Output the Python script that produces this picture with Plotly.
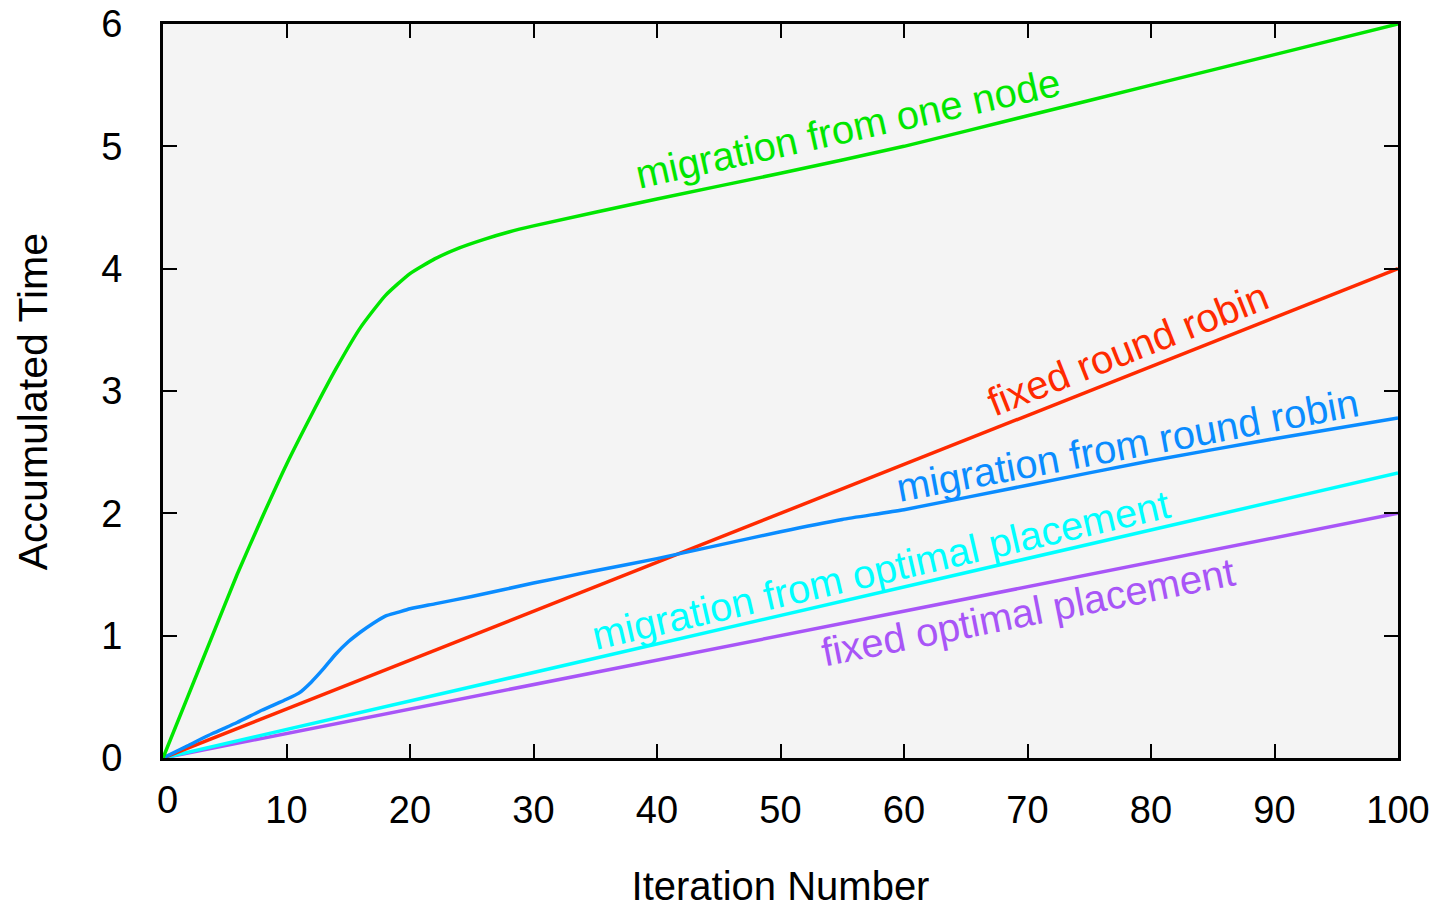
import plotly.graph_objects as go

# ---- data ----
x_one_node = [0, 2, 4, 6, 8, 10, 12, 14, 16, 18, 20, 22, 24, 26, 28, 30, 40, 50, 60, 70, 80, 90, 100]
y_one_node = [0, 0.5, 1.0, 1.5, 1.96, 2.4, 2.8, 3.18, 3.52, 3.78, 3.96, 4.08, 4.17, 4.24, 4.3, 4.35, 4.57, 4.78, 5.0, 5.25, 5.5, 5.75, 6.0]

x_fixed_rr = [0, 100]
y_fixed_rr = [0, 4.0]

x_mig_rr = [0, 2, 4, 6, 8, 10, 11, 12, 13, 14, 15, 16, 17, 18, 19, 20, 22, 25, 30, 35, 40, 45, 50, 55, 60, 70, 80, 90, 100]
y_mig_rr = [0, 0.1, 0.2, 0.29, 0.39, 0.48, 0.53, 0.62, 0.73, 0.85, 0.95, 1.03, 1.1, 1.16, 1.19, 1.22, 1.26, 1.32, 1.43, 1.53, 1.63, 1.74, 1.85, 1.95, 2.03, 2.23, 2.43, 2.61, 2.78]

x_mig_opt = [0, 100]
y_mig_opt = [0, 2.33]

x_fixed_opt = [0, 100]
y_fixed_opt = [0, 2.0]

series_names = ["migration from one node", "fixed round robin", "migration from round robin",
                "migration from optimal placement", "fixed optimal placement"]
series_colors = ["#00e600", "#ff2a00", "#0a8cff", "#00ffff", "#a855f7"]

x_tick_vals = [0, 10, 20, 30, 40, 50, 60, 70, 80, 90, 100]
x_tick_text = ["0", "10", "20", "30", "40", "50", "60", "70", "80", "90", "100"]
y_tick_vals = [0, 1, 2, 3, 4, 5, 6]
y_tick_text = ["0", "1", "2", "3", "4", "5", "6"]

x_title = "Iteration Number"
y_title = "Accumulated Time"

# label placements (data coords) and angles
label_x = [55.5, 78.1, 78.1, 58.1, 70.0]
label_y = [5.15, 3.34, 2.56, 1.54, 1.19]
label_angle = [-12.5, -21.6, -10.6, -13.0, -11.2]

FONT = "Liberation Sans, Arial, Helvetica, sans-serif"

fig = go.Figure()
xs = [x_one_node, x_fixed_rr, x_mig_rr, x_mig_opt, x_fixed_opt]
ys = [y_one_node, y_fixed_rr, y_mig_rr, y_mig_opt, y_fixed_opt]
order = [4, 3, 1, 2, 0]
for i in order:
    fig.add_trace(go.Scatter(x=xs[i], y=ys[i], mode="lines", name=series_names[i],
                             line=dict(color=series_colors[i], width=3.5, shape="spline", smoothing=0.5),
                             showlegend=False, cliponaxis=True))

for i in range(5):
    fig.add_annotation(x=label_x[i], y=label_y[i], xref="x", yref="y", text=series_names[i],
                       showarrow=False, textangle=label_angle[i],
                       font=dict(family=FONT, size=40, color=series_colors[i]),
                       xanchor="center", yanchor="middle")

# the "0" x tick label sits slightly higher and to the right in the reference
fig.add_annotation(x=0, y=0, xref="x", yref="y", text=x_tick_text[0], showarrow=False,
                   xshift=4, yshift=-42, font=dict(family=FONT, size=38, color="black"),
                   xanchor="center", yanchor="middle")

# y axis title, placed as in the reference (slightly below the plot centre)
fig.add_annotation(x=-0.1053, y=0.486, xref="paper", yref="paper", text=y_title,
                   showarrow=False, textangle=-90,
                   font=dict(family=FONT, size=41, color="black"),
                   xanchor="center", yanchor="middle")

fig.update_layout(
    width=1431, height=900,
    margin=dict(l=155, r=41, t=16, b=150, autoexpand=False),
    paper_bgcolor="white", plot_bgcolor="#f4f4f4",
    font=dict(family=FONT, size=38, color="black"),
)
fig.update_xaxes(range=[0, 100], tickvals=x_tick_vals, ticktext=[""] + x_tick_text[1:],
                 ticks="inside", ticklen=14, tickwidth=2, tickcolor="black",
                 showline=True, linecolor="black", linewidth=3, mirror="ticks",
                 showgrid=False, zeroline=False, ticklabelstandoff=16,
                 ticklabeloverflow="allow",
                 title=dict(text=x_title, font=dict(family=FONT, size=40), standoff=60),
                 automargin=False)
fig.update_yaxes(range=[0, 6], tickvals=y_tick_vals, ticktext=y_tick_text,
                 ticks="inside", ticklen=14, tickwidth=2, tickcolor="black",
                 showline=True, linecolor="black", linewidth=3, mirror="ticks",
                 showgrid=False, zeroline=False, ticklabelstandoff=30,
                 ticklabeloverflow="allow",
                 automargin=False)

fig.write_html("out.html")
